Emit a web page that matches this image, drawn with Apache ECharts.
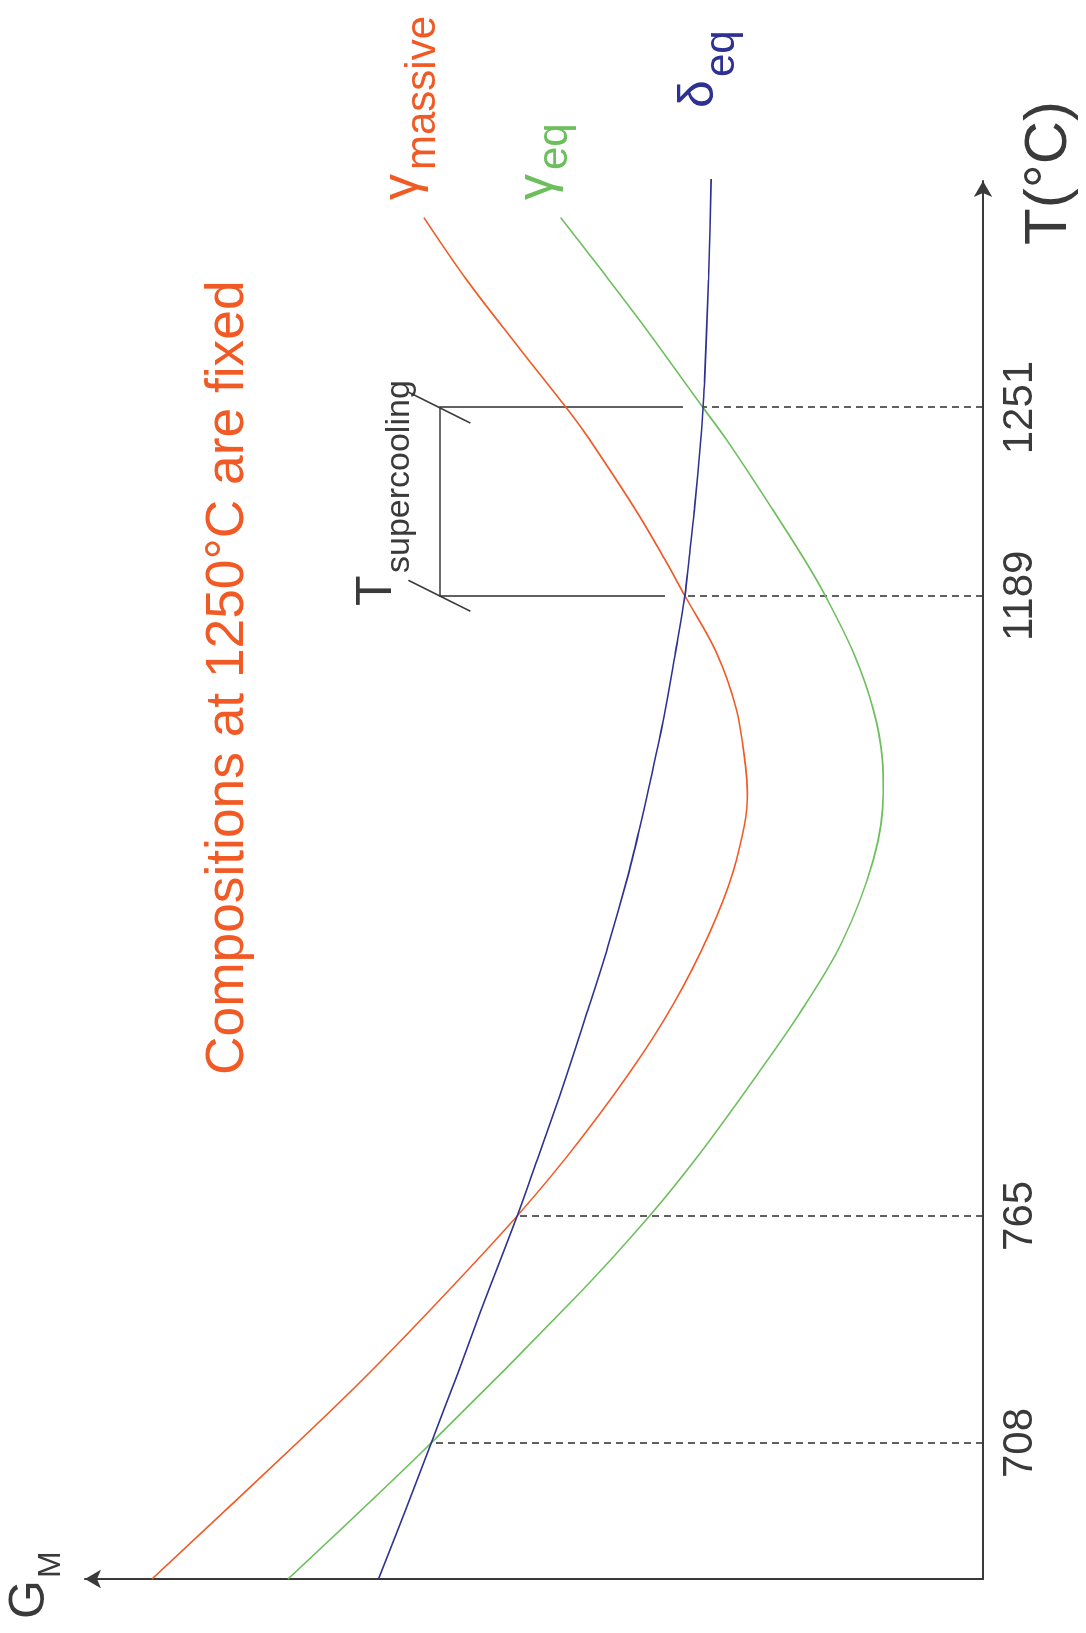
<!DOCTYPE html>
<html>
<head>
<meta charset="utf-8">
<script src="https://cdn.jsdelivr.net/npm/echarts@6/dist/echarts.min.js"></script>
<style>
  html, body { margin: 0; padding: 0; background: #fff; width: 1086px; height: 1633px; overflow: hidden; }
  /* The diagram is laid out landscape and turned a quarter turn so temperature runs upward */
  #chart { position: absolute; left: 0; top: 0; width: 1633px; height: 1086px;
           transform-origin: 0 0; transform: translate(0, 1633px) rotate(-90deg); }
</style>
</head>
<body>
<div id="chart"></div>
<script>
// Schematic temperature coordinate (x) versus molar Gibbs energy G_M (y), arbitrary units.
const gammaMassive = [
  [0, 91.7], [9.67, 75.7], [14.15, 68.5], [19.13, 61.0], [25.82, 51.4], [31.44, 44.2],
  [37.41, 37.5], [42.11, 33.1], [47.08, 29.4], [51.14, 27.2], [55.9, 26.0], [57.75, 26.2],
  [61.8, 27.2], [65.86, 29.4], [69.91, 32.9], [72.48, 35.1], [76.03, 38.35], [81.0, 43.4],
  [82.79, 45.4], [87.62, 51.3], [92.39, 57.0], [96.8, 61.7]
];
const gammaEq = [
  [0, 76.7], [9.67, 60.9], [20.34, 44.5], [25.82, 36.8], [30.3, 31.2], [35.7, 25.1],
  [40.26, 20.2], [45.23, 15.6], [51.14, 12.1], [55.9, 11.0], [58.25, 11.1], [61.8, 12.1],
  [65.86, 14.3], [69.91, 17.4], [72.48, 19.7], [76.03, 23.2], [81.0, 28.3], [83.29, 30.9],
  [89.33, 37.7], [93.31, 42.4], [96.8, 46.6]
];
const deltaEq = [
  [0, 66.7], [5.12, 63.6], [9.67, 60.9], [14.65, 57.95], [18.92, 55.5], [25.82, 51.4],
  [29.8, 49.2], [34.57, 46.6], [40.47, 43.6], [44.95, 41.4], [49.72, 39.3], [53.49, 37.85],
  [56.33, 36.85], [61.31, 35.2], [65.86, 33.95], [69.91, 32.9], [72.48, 32.45], [76.03, 31.85],
  [81.0, 31.15], [83.29, 30.9], [85.28, 30.72], [92.39, 30.3], [99.5, 30.0], [103.27, 29.95]
];

// Marked temperatures (°C), where they sit on the schematic T axis, and where curves cross there
const markTemps = ['708', '765', '1189', '1251'];
const markX = [9.67, 25.82, 69.91, 83.29];
const markMeet = [60.9, 51.4, 32.9, 30.9];

const FONT = '"Liberation Sans", Arial, Helvetica, sans-serif';
const ORANGE = '#f15a24';
const GREEN = '#6cbf5c';
const BLUE = '#2e3192';
const INK = '#3a3a3a';

const chart = echarts.init(document.getElementById('chart'), null, { renderer: 'canvas' });

// Supercooling bracket between the 1189 and 1251 markers
const bracketY = 60.0;
const guideLines = [];
markX.forEach((x, i) => {
  guideLines.push([
    { coord: [x, 0], lineStyle: { type: [7, 5], color: INK, width: 1.6 } },
    { coord: [x, markMeet[i]] }
  ]);
});
[2, 3].forEach(i => {
  const x = markX[i];
  guideLines.push([
    { coord: [x, markMeet[i] + 2.2], lineStyle: { type: 'solid', color: INK, width: 1.6 } },
    { coord: [x, bracketY] }
  ]);
  guideLines.push([
    { coord: [x + 1.1, bracketY + 3.42], lineStyle: { type: 'solid', color: INK, width: 1.6 } },
    { coord: [x - 1.1, bracketY - 3.42] }
  ]);
});
guideLines.push([
  { coord: [markX[2], bracketY], lineStyle: { type: 'solid', color: INK, width: 1.6 } },
  { coord: [markX[3], bracketY] }
]);

// Text helper: main glyph plus a lowered subscript, positioned by baseline
function labelPair(main, sub, x, base, mainSize, subX, subBase, subSize, color) {
  return [
    { type: 'text', x: x, y: base - 0.3465 * mainSize, silent: true,
      style: { text: main, fontSize: mainSize, fontFamily: FONT, fill: color,
               align: 'left', verticalAlign: 'middle' } },
    { type: 'text', x: subX, y: subBase - 0.3465 * subSize, silent: true,
      style: { text: sub, fontSize: subSize, fontFamily: FONT, fill: color,
               align: 'left', verticalAlign: 'middle' } }
  ];
}

const graphics = [].concat(
  labelPair('γ', 'massive', 1433, 421, 52, 1463, 438, 42, ORANGE),
  labelPair('γ', 'eq', 1433, 556, 52, 1463, 570, 42, GREEN),
  labelPair('δ', 'eq', 1525, 717, 50, 1556, 737, 42, BLUE),
  labelPair('T', 'supercooling', 1027, 395, 50, 1060, 411, 34, INK),
  labelPair('G', 'M', 14, 48, 50, 55, 62, 32, INK),
  [
    { type: 'text', x: 1388, y: 1070 - 0.3465 * 60, silent: true,
      style: { text: 'T(°C)', fontSize: 60, fontFamily: FONT, fill: INK,
               align: 'left', verticalAlign: 'middle' } },
    { type: 'text', x: 558, y: 247 - 0.3465 * 53.3, silent: true,
      style: { text: 'Compositions at 1250°C are fixed', fontSize: 53.3, fontFamily: FONT,
               fill: ORANGE, align: 'left', verticalAlign: 'middle' } }
  ]
);

function curve(name, data, color, extra) {
  return Object.assign({
    name: name, type: 'line', data: data, smooth: 0.35, showSymbol: false, symbol: 'none',
    clip: false, silent: true, z: 3,
    lineStyle: { color: color, width: 1.6 }
  }, extra || {});
}

chart.setOption({
  animation: false,
  backgroundColor: '#ffffff',
  grid: { left: 54, right: 181, top: 85, bottom: 103, containLabel: false },
  xAxis: {
    type: 'value', min: 0, max: 99.4,
    axisLine: { show: true, symbol: ['none', 'arrow'], symbolSize: [14, 16],
                lineStyle: { color: INK, width: 2 } },
    axisTick: { show: false },
    splitLine: { show: false },
    axisLabel: {
      show: true, customValues: markX, margin: 16,
      fontSize: 42, fontFamily: FONT, color: INK,
      formatter: v => {
        const i = markX.findIndex(m => Math.abs(m - v) < 1e-6);
        return i >= 0 ? markTemps[i] : '';
      }
    }
  },
  yAxis: {
    type: 'value', min: 0, max: 99.1,
    axisLine: { show: true, symbol: ['none', 'arrow'], symbolSize: [14, 16],
                lineStyle: { color: INK, width: 2 } },
    axisTick: { show: false },
    splitLine: { show: false },
    axisLabel: { show: false }
  },
  graphic: graphics,
  series: [
    curve('γmassive', gammaMassive, ORANGE),
    curve('γeq', gammaEq, GREEN),
    curve('δeq', deltaEq, BLUE, {
      markLine: {
        silent: true, symbol: ['none', 'none'], label: { show: false },
        emphasis: { disabled: true }, z: 2,
        data: guideLines
      }
    })
  ]
});
</script>
</body>
</html>
